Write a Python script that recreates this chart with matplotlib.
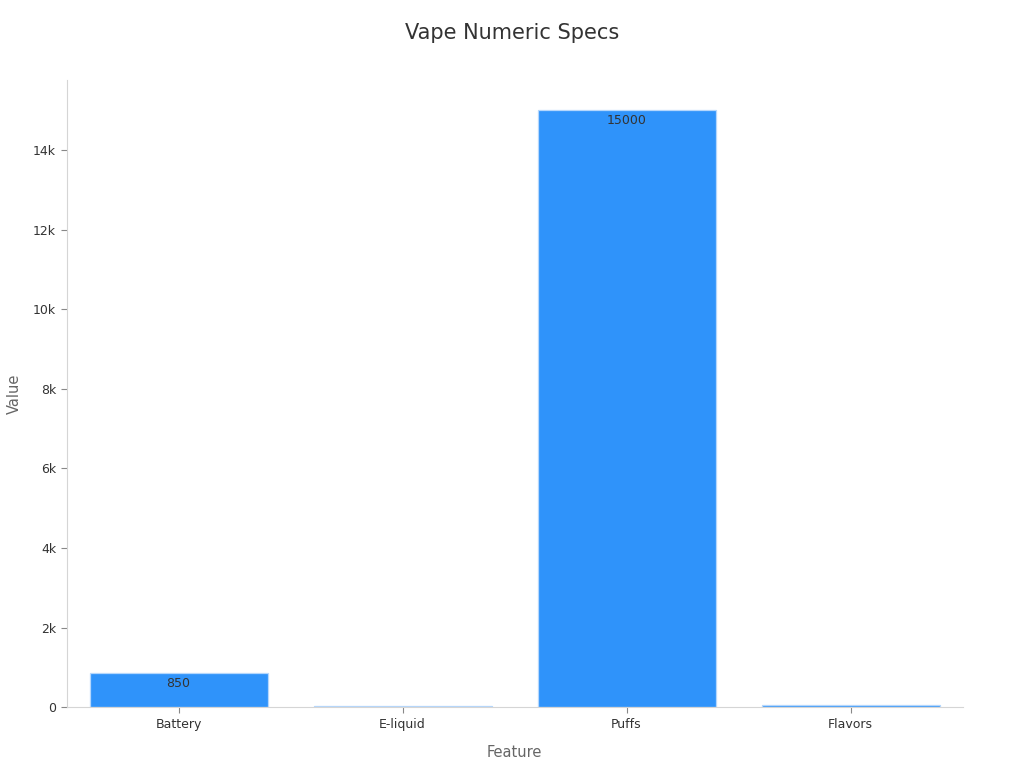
import matplotlib
matplotlib.use('Agg')
import matplotlib.pyplot as plt
from matplotlib.ticker import FuncFormatter

features = ['Battery', 'E-liquid', 'Puffs', 'Flavors']
values = [850, 25, 15000, 50]

bar_color = '#2F93FA'
text_color = '#333333'
label_color = '#666666'
spine_color = '#d5d5d5'


def k_format(v, pos):
    if v == 0:
        return '0'
    return f'{v / 1000:g}k'


fig = plt.figure(figsize=(10.24, 7.68), dpi=100)
ax = fig.add_axes([0.065, 0.079, 0.875, 0.817])

x = range(len(features))
bars = ax.bar(x, values, width=0.795, color=bar_color, edgecolor='#b5d7fc', linewidth=0.9)

# value labels inside the top of the bar (only where there is room)
for b, v in zip(bars, values):
    if v > 400:
        ax.annotate(str(v), (b.get_x() + b.get_width() / 2, v),
                    xytext=(0, -7.5), textcoords='offset points',
                    ha='center', va='center', fontsize=9, color=text_color)

ax.set_xlim(-0.5, 3.5)
ax.set_ylim(0, 15760)
ax.set_xticks(list(x))
ax.set_xticklabels(features)
ax.set_yticks(range(0, 15000, 2000))
ax.yaxis.set_major_formatter(FuncFormatter(k_format))

ax.tick_params(axis='both', labelsize=9, colors='#888888', labelcolor=text_color, length=4)
for side in ['top', 'right']:
    ax.spines[side].set_visible(False)
for side in ['left', 'bottom']:
    ax.spines[side].set_color(spine_color)

ax.set_xlabel('Feature', fontsize=10.5, color=label_color, labelpad=10)
ax.set_ylabel('Value', fontsize=10.5, color=label_color, labelpad=8)
fig.suptitle('Vape Numeric Specs', fontsize=15, color=text_color, y=0.97)

fig.savefig('out.png', dpi=100)
